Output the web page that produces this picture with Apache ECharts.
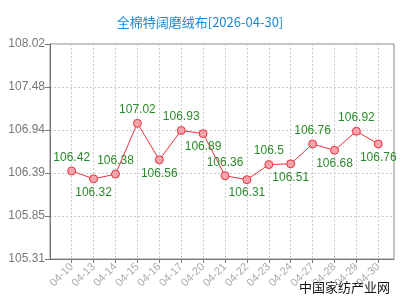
<!DOCTYPE html>
<html>
<head>
<meta charset="utf-8">
<script src="https://cdn.jsdelivr.net/npm/echarts@6/dist/echarts.min.js"></script>
<style>html,body{margin:0;padding:0;background:#fff}#c{width:400px;height:300px}</style>
</head>
<body>
<div id="c"></div>
<script>
var titleText = '全棉特阔磨绒布[2026-04-30]';
var watermark = '中国家纺产业网';
var categories = ['04-10','04-13','04-14','04-15','04-16','04-17','04-20','04-21','04-22','04-23','04-24','04-27','04-28','04-29','04-30'];
var prices = [106.42,106.32,106.38,107.02,106.56,106.93,106.89,106.36,106.31,106.5,106.51,106.76,106.68,106.92,106.76];
var yMin = 105.31, yMax = 108.02;
var labelSide = ['top','bottom','top','top','bottom','top','bottom','top','bottom','top','bottom','top','bottom','top','bottom'];

var chart = echarts.init(document.getElementById('c'), null, {renderer:'canvas'});
var yInterval = (yMax - yMin) / 5;
var gridTop = 44, gridBottom = 41;
chart.setOption({
  animation: false,
  title: {
    text: titleText, left: 'center', top: 11,
    textStyle: {color: '#1a8ad4', fontSize: 13, fontWeight: 'normal', fontFamily: 'Noto Sans CJK SC'}
  },
  graphic: [{
    type: 'text', right: 10, top: 281,
    style: {text: watermark, fill: '#111', font: '13px "Noto Sans CJK SC"'}
  }],
  grid: [
    {left: 50, right: 6, top: gridTop, bottom: gridBottom, show: true, borderColor: '#888', borderWidth: 1, backgroundColor: 'transparent'},
    {left: 71.7, right: 21.7, top: gridTop, bottom: gridBottom}
  ],
  xAxis: [
    {gridIndex: 0, type: 'value', min: 0, max: 1, axisLabel: {show: false}, axisTick: {show: false}, splitLine: {show: false},
     axisLine: {show: true, lineStyle: {color: '#777'}}},
    {gridIndex: 1, type: 'category', data: categories, boundaryGap: false,
     axisLine: {show: false},
     axisTick: {show: true, length: 4, lineStyle: {color: '#777'}},
     axisLabel: {rotate: 45, color: '#aaa', fontSize: 11, fontFamily: 'Liberation Sans', margin: 6, interval: 0},
     splitLine: {show: true, lineStyle: {color: '#ccc', type: [2, 2]}}}
  ],
  yAxis: [
    {gridIndex: 0, type: 'value', min: yMin, max: yMax, interval: yInterval,
     axisLine: {show: true, lineStyle: {color: '#777'}},
     axisTick: {show: true, length: 5, lineStyle: {color: '#777'}},
     axisLabel: {color: '#777', fontSize: 12, fontFamily: 'Liberation Sans', margin: 5, formatter: function(v){return v.toFixed(2);}},
     splitLine: {show: true, lineStyle: {color: '#ccc', type: [2, 2]}}},
    {gridIndex: 1, type: 'value', min: yMin, max: yMax, show: false, splitLine: {show: false}}
  ],
  series: [{
    type: 'line', xAxisIndex: 1, yAxisIndex: 1,
    data: prices.map(function(v, i){
      return {value: v, label: {position: labelSide[i]}};
    }),
    lineStyle: {color: '#e8303c', width: 1},
    itemStyle: {color: '#f7a3ab', borderColor: '#e8303c', borderWidth: 1},
    symbol: 'circle', symbolSize: 8, showAllSymbol: true,
    label: {show: true, color: '#2b8a2b', fontSize: 12, fontFamily: 'Liberation Sans', distance: 3,
            formatter: function(p){return String(p.value);}}
  }]
});
</script>
</body>
</html>
